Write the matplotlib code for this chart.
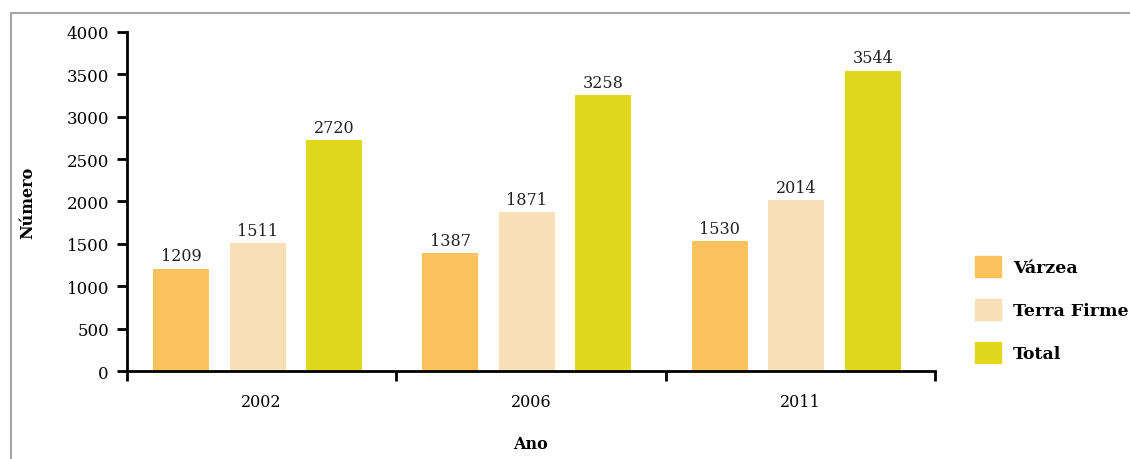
import matplotlib.pyplot as plt
from matplotlib.patches import Rectangle, Patch

anos = ["2002", "2006", "2011"]
series = ["Várzea", "Terra Firme", "Total"]
varzea = [1209, 1387, 1530]
terra_firme = [1511, 1871, 2014]
total = [2720, 3258, 3544]
cores = ["#FBC25E", "#F8E0B6", "#E0D81C"]

plt.rcParams["font.family"] = ["DejaVu Serif"]

fig = plt.figure(figsize=(11.3, 4.6), dpi=100)
ax = fig.add_axes([0.1124, 0.1913, 0.715, 0.737])

# moldura cinza
fig.patches.append(Rectangle((11 / 1130, -0.2), 1.2, 1.2 - 14 / 460,
                             transform=fig.transFigure, fill=False,
                             edgecolor="#a6a6a6", lw=1.5))

largura = 0.208
passo = 0.284
valores = [varzea, terra_firme, total]
for j, (nome, vals) in enumerate(zip(series, valores)):
    xs = [i + 0.485 + (j - 1) * passo for i in range(len(anos))]
    ax.bar(xs, vals, width=largura, color=cores[j], label=nome)
    for x, v in zip(xs, vals):
        ax.text(x, v + 50, str(v), ha="center", va="bottom", fontsize=11.5,
                color="#222222")

ax.set_xlim(0, 3)
ax.set_ylim(0, 4000)
ax.set_yticks(range(0, 4001, 500))
ax.set_xticks([0, 1, 2, 3])
ax.set_xticklabels([])
ax.set_xticks([0.5, 1.5, 2.5], minor=True)
ax.set_xticklabels(anos, minor=True)
ax.tick_params(axis="x", which="major", direction="out", length=7, width=2)
ax.tick_params(axis="x", which="minor", length=0, pad=16, labelsize=11.5)
ax.tick_params(axis="y", direction="out", length=7, width=2, labelsize=12, pad=6)

for s in ["top", "right"]:
    ax.spines[s].set_visible(False)
for s in ["left", "bottom"]:
    ax.spines[s].set_linewidth(2)

ax.set_ylabel("Número", fontweight="bold", fontsize=11.5, labelpad=22)
ax.set_xlabel("Ano", fontweight="bold", fontsize=11.5, labelpad=18)

handles = [Patch(color=c, label=n) for c, n in zip(cores, series)]
fig.legend(handles=handles, loc="upper left", bbox_to_anchor=(0.849, 0.475),
           frameon=False, handlelength=1.5, handleheight=1.5,
           labelspacing=1.25, handletextpad=0.7, prop={"weight": "bold", "size": 12.5})

fig.savefig("out.png", dpi=100)
